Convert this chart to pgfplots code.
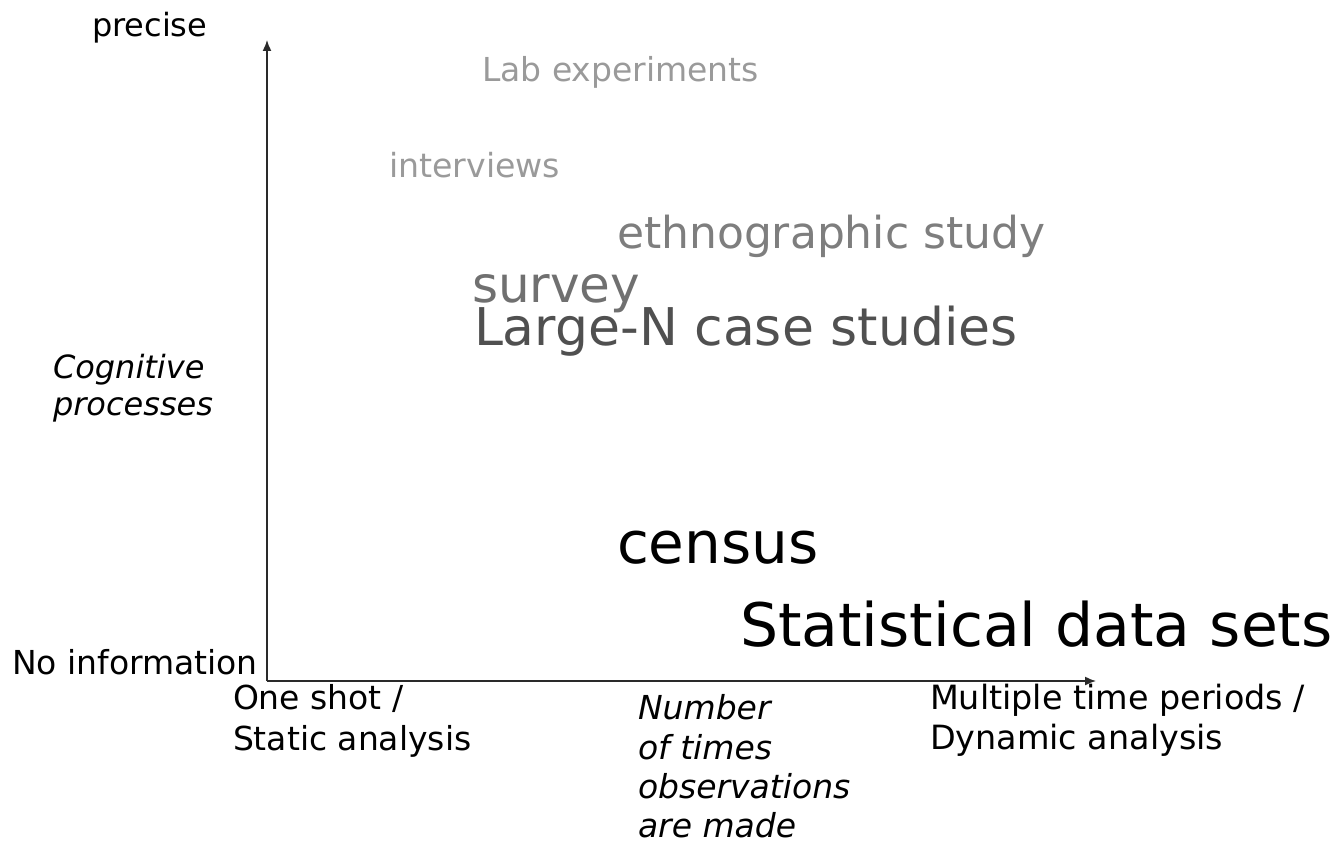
\documentclass[border=0pt]{standalone}
\usepackage{pgfplots}
\pgfplotsset{compat=1.18}
\usepackage{fontspec}
\setmainfont{DejaVu Sans}
\usetikzlibrary{arrows.meta}
\definecolor{gA}{HTML}{9A9A9A}
\definecolor{gB}{HTML}{7E7E7E}
\definecolor{gC}{HTML}{707070}
\definecolor{gD}{HTML}{505050}
\definecolor{axc}{HTML}{2A2A2A}
\newcommand{\fs}[1]{\fontsize{#1}{#1}\selectfont}
\tikzset{lab/.style={anchor=base west, inner sep=0pt, outer sep=0pt}}
\begin{document}
\begin{tikzpicture}
\begin{axis}[scale only axis, width=671pt, height=422.5pt,
  xmin=0, xmax=1342, ymin=0, ymax=845, y dir=reverse,
  axis lines=none, clip=false]
\addplot[draw=none, forget plot] coordinates {(0,0) (1342,845)};
% axes
\addplot[line width=0.75pt, color=axc, -{Latex[length=5.5pt,width=4.5pt]}] coordinates {(267,681) (267,40)};
\addplot[line width=0.75pt, color=axc, -{Latex[length=5.5pt,width=4.5pt]}] coordinates {(267,681) (1096,681)};
% axis annotations
\node[lab] at (axis cs:92,37) {\fs{16}precise};
\node[lab] at (axis cs:12,674) {\fs{16.5}No information};
\node[lab] at (axis cs:53,378) {\fs{16}\itshape Cognitive};
\node[lab] at (axis cs:53,415) {\fs{16}\itshape processes};
\node[lab] at (axis cs:233,709) {\fs{16.5}One shot /};
\node[lab] at (axis cs:233,750) {\fs{16.5}Static analysis};
\node[lab] at (axis cs:638,719) {\fs{16.5}\itshape Number};
\node[lab] at (axis cs:638,759) {\fs{16.5}\itshape of times};
\node[lab] at (axis cs:638,798) {\fs{16.5}\itshape observations};
\node[lab] at (axis cs:638,837) {\fs{16.5}\itshape are made};
\node[lab] at (axis cs:930,709) {\fs{16.7}Multiple time periods /};
\node[lab] at (axis cs:930,749) {\fs{16.7}Dynamic analysis};
% methods
\node[lab, text=gA] at (axis cs:482,82) {\fs{16.5}Lab experiments};
\node[lab, text=gA] at (axis cs:389,177) {\fs{16.6}interviews};
\node[lab, text=gB] at (axis cs:617,249) {\fs{22}ethnographic study};
\node[lab, text=gC] at (axis cs:472,302) {\fs{25}survey};
\node[lab, text=gD] at (axis cs:474,345) {\fs{26}Large-N case studies};
\node[lab] at (axis cs:617,563) {\fs{29}census};
\node[lab] at (axis cs:740,646) {\fs{30}Statistical data sets};
\coordinate (bl) at (axis cs:0,845);
\coordinate (tr) at (axis cs:1342,0);
\end{axis}
\pgfresetboundingbox
\path (bl) rectangle (tr);
\end{tikzpicture}
\end{document}
